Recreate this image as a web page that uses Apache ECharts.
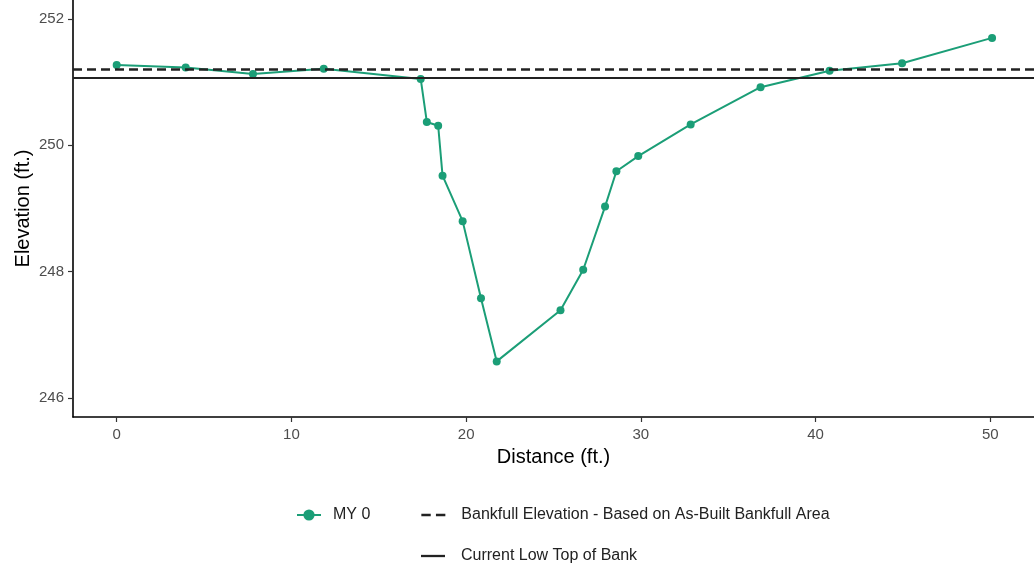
<!DOCTYPE html>
<html>
<head>
<meta charset="utf-8">
<script src="https://cdn.jsdelivr.net/npm/echarts@6/dist/echarts.min.js"></script>
<style>
  html, body { margin: 0; padding: 0; background: #fff; }
  #chart { width: 1034px; height: 568px; }
</style>
</head>
<body>
<div id="chart"></div>
<script>
// Cross-section survey: station distance (ft.) vs. ground elevation (ft.)
const distance = [0, 3.95, 7.8, 11.85, 17.4, 17.75, 18.4, 18.65, 19.8, 20.85, 21.75,
                  25.4, 26.7, 27.95, 28.6, 29.85, 32.85, 36.85, 40.8, 44.95, 50.1];
const elevation = [251.27, 251.23, 251.13, 251.21, 251.05, 250.37, 250.31, 249.52, 248.8, 247.58, 246.58,
                   247.39, 248.03, 249.03, 249.59, 249.83, 250.33, 250.92, 251.18, 251.3, 251.7];

// Reference elevations
const bankfullElevation = 251.2;
const lowTopOfBank = 251.07;

// Tick labels
const xTicks = [0, 10, 20, 30, 40, 50];
const yTicks = [246, 248, 250, 252];

const seriesNames = ['MY 0', 'Bankfull Elevation - Based on As-Built Bankfull Area', 'Current Low Top of Bank'];

const FONT = '"Liberation Sans", Arial, Helvetica, sans-serif';
const GREEN = '#1b9e77';
const INK = '#222222';

// Legend keys for the two reference lines
const DASHED_KEY = 'path://M0,0h9v2.6h-9zM14,0h9v2.6h-9z';
const SOLID_KEY = 'path://M0,0h23v2.2h-23z';

const survey = distance.map((d, i) => [d, elevation[i]]);

const chart = echarts.init(document.getElementById('chart'), null, { renderer: 'canvas' });

const legendText = (pad) => ({ color: '#222', fontSize: 16, fontFamily: FONT, padding: [0, 0, 0, pad] });

chart.setOption({
  animation: false,
  backgroundColor: '#ffffff',
  grid: { left: 73, right: 0, top: 0, bottom: 151, containLabel: false, outerBoundsMode: 'none' },
  xAxis: {
    type: 'value',
    min: -2.5,
    max: 52.5,
    name: 'Distance (ft.)',
    nameLocation: 'middle',
    nameGap: 30,
    nameMoveOverlap: false,
    nameTextStyle: { color: '#000', fontSize: 20, fontFamily: FONT },
    axisLine: { show: true, onZero: false, lineStyle: { color: '#000', width: 1.6 } },
    axisTick: { show: true, length: 5, customValues: xTicks, lineStyle: { color: '#333', width: 1.2 } },
    axisLabel: { customValues: xTicks, color: '#4d4d4d', fontSize: 15, fontFamily: FONT, margin: 10 },
    splitLine: { show: false }
  },
  yAxis: {
    type: 'value',
    min: 245.7,
    max: 252.3,
    name: 'Elevation (ft.)',
    nameLocation: 'middle',
    nameGap: 40,
    nameMoveOverlap: false,
    nameRotate: 90,
    nameTextStyle: { color: '#000', fontSize: 20, fontFamily: FONT },
    axisLine: { show: true, onZero: false, lineStyle: { color: '#000', width: 1.6 } },
    axisTick: { show: true, length: 5, customValues: yTicks, lineStyle: { color: '#333', width: 1.2 } },
    axisLabel: { customValues: yTicks, color: '#4d4d4d', fontSize: 15, fontFamily: FONT, margin: 9 },
    splitLine: { show: false }
  },
  legend: [
    {
      data: [
        { name: seriesNames[0], textStyle: legendText(7) },
        { name: seriesNames[1], icon: DASHED_KEY, itemStyle: { color: INK }, textStyle: legendText(11) }
      ],
      left: 296,
      top: 507,
      padding: 0,
      itemWidth: 24,
      itemHeight: 14,
      itemGap: 51,
      textStyle: legendText(7)
    },
    {
      data: [{ name: seriesNames[2], icon: SOLID_KEY, itemStyle: { color: INK } }],
      left: 421,
      top: 548,
      padding: 0,
      itemWidth: 24,
      itemHeight: 14,
      textStyle: legendText(11)
    }
  ],
  series: [
    {
      name: seriesNames[1],
      type: 'line',
      data: [],
      symbol: 'none',
      color: INK,
      lineStyle: { color: INK, width: 2.5, type: [9, 5] },
      markLine: {
        silent: true,
        symbol: 'none',
        label: { show: false },
        lineStyle: { color: INK, width: 2.5, type: [9, 5] },
        data: [{ yAxis: bankfullElevation }]
      }
    },
    {
      name: seriesNames[2],
      type: 'line',
      data: [],
      symbol: 'none',
      color: INK,
      lineStyle: { color: INK, width: 2, type: 'solid' },
      markLine: {
        silent: true,
        symbol: 'none',
        label: { show: false },
        lineStyle: { color: INK, width: 2, type: 'solid' },
        data: [{ yAxis: lowTopOfBank }]
      }
    },
    {
      name: seriesNames[0],
      type: 'line',
      data: survey,
      color: GREEN,
      symbol: 'circle',
      symbolSize: 8,
      showAllSymbol: true,
      lineStyle: { color: GREEN, width: 2 },
      itemStyle: { color: GREEN },
      z: 3
    }
  ]
});
</script>
</body>
</html>
